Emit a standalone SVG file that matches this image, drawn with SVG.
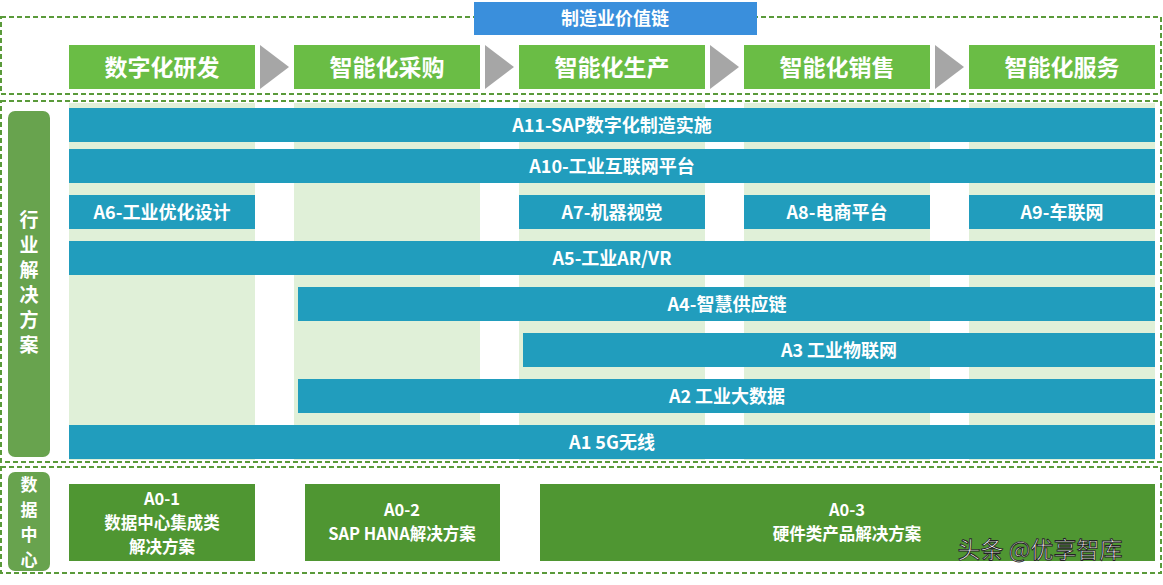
<svg xmlns="http://www.w3.org/2000/svg" width="1163" height="585" viewBox="0 0 1163 585">
<style>
text{font-family:"Noto Sans CJK SC","Liberation Sans",sans-serif;font-weight:bold;fill:#fff;text-anchor:middle}
.dash{fill:none;stroke:#5a9a3a;stroke-width:2;stroke-dasharray:5,3}
.stage{fill:#6abd45}
.col{fill:#e0f0d8}
.bar{fill:#219dbd}
.side{fill:#68a34e}
.dc{fill:#4f9632}
.arr{fill:#a6a6a6}
.t22{font-size:23px}
.t17{font-size:18px}
.t16{font-size:16.5px}
.t20{font-size:19px}
.t15{font-size:17px}
</style>
<rect width="1163" height="585" fill="#fff"/>
<rect class="dash" x="1" y="17" width="1160" height="77"/>
<rect class="dash" x="1" y="101" width="1160" height="361"/>
<rect class="dash" x="1" y="467" width="1160" height="106"/>
<g id="header"><rect x="474" y="2" width="283" height="33" fill="#3a8fdc"/><text x="615" y="25" class="t17">制造业价值链</text></g>
<g id="stages">
<rect class="stage" x="69" y="45" width="186" height="44"/><text x="162" y="76" class="t22">数字化研发</text>
<rect class="stage" x="294" y="45" width="186" height="44"/><text x="387" y="76" class="t22">智能化采购</text>
<rect class="stage" x="519" y="45" width="186" height="44"/><text x="612" y="76" class="t22">智能化生产</text>
<rect class="stage" x="744" y="45" width="186" height="44"/><text x="837" y="76" class="t22">智能化销售</text>
<rect class="stage" x="969" y="45" width="186" height="44"/><text x="1062" y="76" class="t22">智能化服务</text>
</g>
<g id="connectors">
<polygon class="arr" points="260,45 289,67 260,89"/>
<polygon class="arr" points="485,45 514,67 485,89"/>
<polygon class="arr" points="710,45 739,67 710,89"/>
<polygon class="arr" points="935,45 964,67 935,89"/>
</g>
<g id="columns">
<rect class="col" x="69" y="103" width="186" height="357"/>
<rect class="col" x="294" y="103" width="186" height="357"/>
<rect class="col" x="519" y="103" width="186" height="357"/>
<rect class="col" x="744" y="103" width="186" height="357"/>
<rect class="col" x="969" y="103" width="186" height="357"/>
</g>
<g id="side1"><rect class="side" x="8" y="111" width="42" height="346" rx="7"/>
<text x="29" y="227" class="t20">行</text><text x="29" y="252" class="t20">业</text><text x="29" y="277" class="t20">解</text><text x="29" y="302" class="t20">决</text><text x="29" y="327" class="t20">方</text><text x="29" y="352" class="t20">案</text></g>
<g id="A11"><rect class="bar" x="69" y="108" width="1086" height="34"/><text x="612" y="132" class="t17">A11-SAP数字化制造实施</text></g>
<g id="A10"><rect class="bar" x="69" y="149" width="1086" height="34"/><text x="612" y="173" class="t17">A10-工业互联网平台</text></g>
<g id="A6"><rect class="bar" x="69" y="195" width="186" height="34"/><text x="162" y="219" class="t17">A6-工业优化设计</text></g>
<g id="A7"><rect class="bar" x="519" y="195" width="186" height="34"/><text x="612" y="219" class="t17">A7-机器视觉</text></g>
<g id="A8"><rect class="bar" x="744" y="195" width="186" height="34"/><text x="837" y="219" class="t17">A8-电商平台</text></g>
<g id="A9"><rect class="bar" x="969" y="195" width="186" height="34"/><text x="1062" y="219" class="t17">A9-车联网</text></g>
<g id="A5"><rect class="bar" x="69" y="241" width="1086" height="34"/><text x="612" y="265" class="t17">A5-工业AR/VR</text></g>
<g id="A4"><rect class="bar" x="298" y="287" width="857" height="34"/><text x="727" y="311" class="t17">A4-智慧供应链</text></g>
<g id="A3"><rect class="bar" x="523" y="333" width="632" height="34"/><text x="839" y="357" class="t17">A3 工业物联网</text></g>
<g id="A2"><rect class="bar" x="298" y="379" width="857" height="34"/><text x="727" y="403" class="t17">A2 工业大数据</text></g>
<g id="A1"><rect class="bar" x="69" y="425" width="1086" height="34"/><text x="612" y="449" class="t17">A1 5G无线</text></g>
<g id="side2"><rect class="side" x="8" y="472" width="42" height="99" rx="7"/>
<text x="29" y="491" class="t15">数</text><text x="29" y="516" class="t15">据</text><text x="29" y="541" class="t15">中</text><text x="29" y="566" class="t15">心</text></g>
<g id="A0-1"><rect class="dc" x="69" y="484" width="186" height="77"/><text x="162" y="505" class="t16">A0-1</text><text x="162" y="529" class="t16">数据中心集成类</text><text x="162" y="553" class="t16">解决方案</text></g>
<g id="A0-2"><rect class="dc" x="305" y="484" width="195" height="77"/><text x="402" y="516" class="t16">A0-2</text><text x="402" y="540" class="t16">SAP HANA解决方案</text></g>
<g id="A0-3"><rect class="dc" x="540" y="484" width="615" height="77"/><text x="847" y="516" class="t16">A0-3</text><text x="847" y="540" class="t16">硬件类产品解决方案</text></g>
<text x="1040" y="558" style="font-size:23px;font-weight:normal;fill:#fff;stroke:#222;stroke-width:0.9">头条 @优享智库</text>
</svg>
